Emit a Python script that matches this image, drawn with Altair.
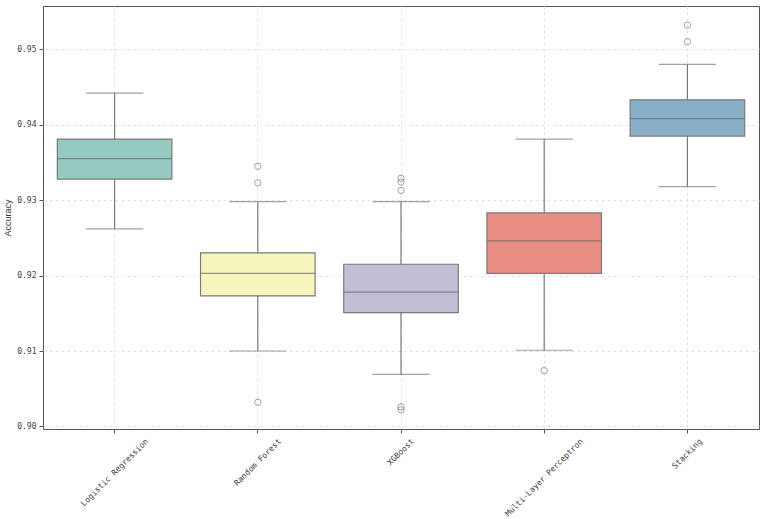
import altair as alt
import pandas as pd

# Box statistics per model (accuracy across repeated CV runs)
models = ["Logistic Regression", "Random Forest", "XGBoost", "Multi-Layer Perceptron", "Stacking"]
whisker_low = [0.9262, 0.9100, 0.9069, 0.9101, 0.9318]
q1 = [0.9328, 0.9173, 0.9151, 0.9203, 0.9385]
median = [0.9355, 0.9203, 0.9178, 0.9246, 0.9408]
q3 = [0.9381, 0.9230, 0.9215, 0.9283, 0.9433]
whisker_high = [0.9442, 0.9298, 0.9298, 0.9381, 0.9480]

# Points beyond the whiskers
outlier_model = ["Random Forest", "Random Forest", "Random Forest",
                 "XGBoost", "XGBoost", "XGBoost", "XGBoost", "XGBoost",
                 "Multi-Layer Perceptron",
                 "Stacking", "Stacking"]
outlier_value = [0.9345, 0.9323, 0.9032,
                 0.9329, 0.9324, 0.9313, 0.9026, 0.9022,
                 0.9074,
                 0.9532, 0.9510]

palette = ["#96cac1", "#f5f5bc", "#c1bed6", "#ea8e83", "#8aafc8"]

stats = pd.DataFrame({
    "model": models,
    "low": whisker_low,
    "q1": q1,
    "median": median,
    "q3": q3,
    "high": whisker_high,
})
outliers = pd.DataFrame({"model": outlier_model, "value": outlier_value})

W, H = 716, 423
band = W / len(models)
line_color = "#7a7a7a"
mono = "DejaVu Sans Mono"

x_enc = alt.X(
    "model:N",
    sort=models,
    title=None,
    scale=alt.Scale(paddingInner=0, paddingOuter=0),
    axis=alt.Axis(
        bandPosition=0.5,
        labelAngle=-45,
        labelAlign="right",
        labelBaseline="middle",
        labelOffset=alt.ExprRef("length(datum.label) * 1.72"),
        labelPadding=7,
        labelFont=mono,
        labelFontSize=8,
        labelColor="#3c3c3c",
        tickColor="#555555",
        tickSize=4,
        domain=False,
        grid=True,
        gridColor="#e2e2e2",
        gridDash=[3, 3],
    ),
)

y_scale = alt.Scale(domain=[0.89966, 0.95574], nice=False, zero=False)
y_axis = alt.Axis(
    values=[0.90, 0.91, 0.92, 0.93, 0.94, 0.95],
    format=".2f",
    title="Accuracy",
    titleFont="Liberation Sans",
    titleFontSize=9,
    titleFontWeight="normal",
    titleColor="#333333",
    labelFont=mono,
    labelFontSize=8,
    labelColor="#3c3c3c",
    labelPadding=3,
    tickColor="#555555",
    tickSize=4,
    domain=False,
    grid=True,
    gridColor="#e2e2e2",
    gridDash=[3, 3],
)

base = alt.Chart(stats).encode(x=x_enc)

whiskers = base.mark_rule(color=line_color, strokeWidth=1.2).encode(
    y=alt.Y("low:Q", scale=y_scale, axis=y_axis),
    y2="high:Q",
)

caps_low = base.mark_tick(color=line_color, size=band * 0.4, thickness=1.2).encode(
    y=alt.Y("low:Q", scale=y_scale)
)
caps_high = base.mark_tick(color=line_color, size=band * 0.4, thickness=1.2).encode(
    y=alt.Y("high:Q", scale=y_scale)
)

boxes = base.mark_bar(
    width=alt.RelativeBandSize(0.8), stroke=line_color, strokeWidth=1.2, opacity=1
).encode(
    y=alt.Y("q1:Q", scale=y_scale),
    y2="q3:Q",
    color=alt.Color("model:N", sort=models, scale=alt.Scale(domain=models, range=palette), legend=None),
)

medians = base.mark_tick(color="#6a6a6a", size=band * 0.8, thickness=1.2).encode(
    y=alt.Y("median:Q", scale=y_scale)
)

points = alt.Chart(outliers).mark_point(
    shape="circle", filled=False, size=40, color=line_color, strokeWidth=1
).encode(
    x=alt.X("model:N", sort=models),
    y=alt.Y("value:Q", scale=y_scale),
)

chart = (
    alt.layer(whiskers, caps_low, caps_high, boxes, medians, points)
    .properties(
        width=W,
        height=H,
        autosize=alt.AutoSizeParams(type="none"),
        padding={"left": 43, "top": 6, "right": 8, "bottom": 90},
        background="white",
    )
    .configure_view(stroke="#555555", strokeWidth=1)
)

chart.save("out.html", embed_options={"renderer": "svg", "actions": False})
